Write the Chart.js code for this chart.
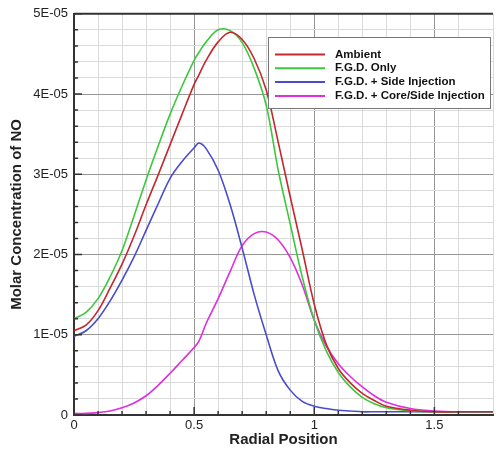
<!DOCTYPE html>
<html>
<head>
<meta charset="utf-8">
<script src="https://cdn.jsdelivr.net/npm/chart.js@4/dist/chart.umd.min.js"></script>
<style>
  html, body { margin: 0; padding: 0; background: #fff; }
  #wrap { width: 496px; height: 450px; }
</style>
</head>
<body>
<div id="wrap"><canvas id="no-chart" width="496" height="450"></canvas></div>
<script>
// radial position (shared by all series)
const radialPos = [0, 0.05, 0.1, 0.15, 0.2, 0.25, 0.3, 0.35, 0.4, 0.45, 0.5, 0.52, 0.55, 0.6, 0.65, 0.7,
    0.75, 0.8, 0.85, 0.9, 0.95, 1.0, 1.05, 1.1, 1.15, 1.2, 1.25, 1.3, 1.4, 1.5, 1.6, 1.75];

// NO molar concentration, in units of 1E-05
const ambient = [1.05, 1.12, 1.30, 1.58, 1.88, 2.23, 2.62, 2.99, 3.37, 3.75, 4.12, 4.24, 4.42, 4.65, 4.77, 4.68,
    4.44, 4.05, 3.40, 2.72, 2.06, 1.38, 0.88, 0.58, 0.40, 0.27, 0.18, 0.11, 0.06, 0.04, 0.04, 0.04];
const fgdOnly = [1.20, 1.28, 1.45, 1.72, 2.05, 2.48, 2.93, 3.35, 3.75, 4.10, 4.42, 4.52, 4.65, 4.80, 4.79, 4.64,
    4.32, 3.86, 3.05, 2.38, 1.72, 1.18, 0.80, 0.53, 0.35, 0.22, 0.14, 0.09, 0.05, 0.04, 0.04, 0.04];
const fgdSide = [0.98, 1.05, 1.20, 1.42, 1.68, 1.97, 2.30, 2.63, 2.95, 3.16, 3.33, 3.39, 3.32, 3.05, 2.62, 2.08,
    1.50, 1.00, 0.55, 0.31, 0.17, 0.11, 0.08, 0.06, 0.05, 0.04, 0.04, 0.04, 0.04, 0.04, 0.04, 0.04];
const fgdCoreSide = [0.02, 0.02, 0.03, 0.05, 0.09, 0.15, 0.24, 0.37, 0.52, 0.68, 0.84, 0.92, 1.14, 1.45, 1.79, 2.11,
    2.26, 2.28, 2.18, 1.96, 1.62, 1.18, 0.86, 0.64, 0.48, 0.35, 0.24, 0.16, 0.08, 0.05, 0.04, 0.04];

const seriesLabels = ['Ambient', 'F.G.D. Only', 'F.G.D. + Side Injection', 'F.G.D. + Core/Side Injection'];
const seriesColors = ['#c3282e', '#3cc83c', '#4b4bcd', '#df2edf'];

const xMajor = v => Math.round(v * 10) % 5 === 0;
const yMajor = v => Math.round(v * 5) % 5 === 0;

Chart.defaults.font.family = '"Liberation Sans", Arial, sans-serif';
Chart.defaults.color = '#222';

// inward tick marks + top frame line
const frameTicks = {
    id: 'frameTicks',
    afterDatasetsDraw(chart) {
        const { ctx, chartArea: a, scales: { x, y } } = chart;
        ctx.save();
        ctx.strokeStyle = '#333';
        ctx.lineWidth = 1.5;
        ctx.beginPath();
        x.ticks.forEach(t => {
            if (t.value > x.max - 0.01) return;
            const px = x.getPixelForValue(t.value);
            const len = xMajor(t.value) ? 8 : 4;
            ctx.moveTo(px, a.bottom);
            ctx.lineTo(px, a.bottom - len);
        });
        y.ticks.forEach(t => {
            const py = y.getPixelForValue(t.value);
            const len = yMajor(t.value) ? 8 : 4;
            ctx.moveTo(a.left, py);
            ctx.lineTo(a.left + len, py);
        });
        ctx.stroke();
        ctx.lineWidth = 2;
        ctx.beginPath();
        ctx.moveTo(a.left, a.top);
        ctx.lineTo(a.right, a.top);
        ctx.stroke();
        ctx.restore();
    }
};

// boxed legend inside the plot, upper right
const boxLegend = {
    id: 'boxLegend',
    afterDraw(chart) {
        const { ctx } = chart;
        const left = 268, top = 37, w = 222, h = 71;
        ctx.save();
        ctx.fillStyle = '#fff';
        ctx.fillRect(left, top, w, h);
        ctx.strokeStyle = '#777';
        ctx.lineWidth = 1;
        ctx.strokeRect(left + 0.5, top + 0.5, w, h);
        ctx.font = 'bold 11.5px "Liberation Sans", Arial, sans-serif';
        ctx.textBaseline = 'middle';
        ctx.fillStyle = '#111';
        chart.data.datasets.forEach((ds, i) => {
            const ry = top + 17.5 + i * 13.8;
            ctx.strokeStyle = ds.borderColor;
            ctx.lineWidth = 2;
            ctx.beginPath();
            ctx.moveTo(275, ry);
            ctx.lineTo(325, ry);
            ctx.stroke();
            ctx.fillText(ds.label, 335, ry);
        });
        ctx.restore();
    }
};

const seriesData = [ambient, fgdOnly, fgdSide, fgdCoreSide];

new Chart(document.getElementById('no-chart'), {
    type: 'line',
    data: {
        datasets: seriesData.map((vals, i) => ({
            label: seriesLabels[i],
            data: vals.map((v, j) => ({ x: radialPos[j], y: v })),
            borderColor: seriesColors[i],
            backgroundColor: seriesColors[i],
            borderWidth: 1.6,
            pointRadius: 0,
            tension: 0.35,
            fill: false,
        }))
    },
    options: {
        responsive: false,
        animation: false,
        layout: { padding: { top: 11, right: 0, left: 0, bottom: 0 } },
        plugins: { legend: { display: false }, tooltip: { enabled: false } },
        scales: {
            x: {
                type: 'linear',
                min: 0,
                max: 1.744,
                afterFit: s => { s.height = 35; },
                ticks: {
                    stepSize: 0.1,
                    autoSkip: false,
                    maxRotation: 0,
                    padding: 3,
                    font: { size: 13 },
                    callback: v => (xMajor(v) && v < 1.72) ? String(Math.round(v * 10) / 10) : ''
                },
                grid: {
                    drawTicks: false,
                    color: c => (c.tick && xMajor(c.tick.value)) ? '#969696' : '#dadada',
                    lineWidth: 1
                },
                border: { color: '#333', width: 2 },
                title: {
                    display: true,
                    text: 'Radial Position',
                    font: { size: 15, weight: 'bold' },
                    padding: { top: 0, bottom: 1 }
                }
            },
            y: {
                min: 0,
                max: 5,
                afterFit: s => { s.width = 74; },
                ticks: {
                    stepSize: 0.2,
                    autoSkip: false,
                    padding: 6,
                    font: { size: 13 },
                    callback: v => yMajor(v) ? (Math.round(v) === 0 ? '0' : Math.round(v) + 'E-05') : ''
                },
                grid: {
                    drawTicks: false,
                    color: c => (c.tick && yMajor(c.tick.value)) ? '#969696' : '#dadada',
                    lineWidth: 1
                },
                border: { color: '#333', width: 2 },
                title: {
                    display: true,
                    text: 'Molar Concentration of NO',
                    font: { size: 15, weight: 'bold' },
                    padding: { top: 8, bottom: 0 }
                }
            }
        }
    },
    plugins: [frameTicks, boxLegend]
});
</script>
</body>
</html>
